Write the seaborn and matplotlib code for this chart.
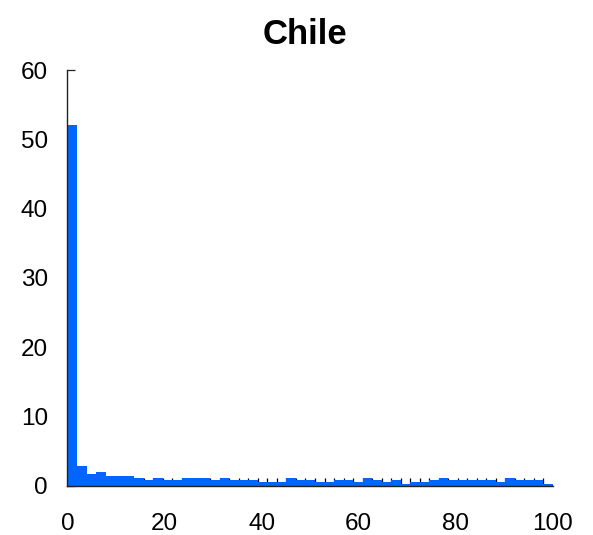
import numpy as np
import pandas as pd
import seaborn as sns
import matplotlib.pyplot as plt

# share (%) per bin, 51 equal bins over 0-100
bin_edges = list(np.linspace(0, 100, 52))
bin_heights = [
    52.0, 2.8, 1.7, 2.0, 1.4, 1.4, 1.4, 1.1, 0.8, 1.1,
    0.8, 0.8, 1.1, 1.1, 1.1, 0.8, 1.1, 0.8, 0.8, 0.8,
    0.5, 0.5, 0.5, 1.1, 0.8, 0.8, 0.5, 0.5, 0.8, 0.8,
    0.5, 1.1, 0.8, 0.5, 0.8, 0.25, 0.5, 0.5, 0.8, 1.1,
    0.8, 0.8, 0.8, 0.8, 0.8, 0.5, 1.1, 0.8, 0.8, 0.8,
    0.25,
]
bin_centers = [(a + b) / 2 for a, b in zip(bin_edges[:-1], bin_edges[1:])]
x_ticks = [0, 20, 40, 60, 80, 100]
y_ticks = [0, 10, 20, 30, 40, 50, 60]
title = "Chile"

df = pd.DataFrame({"value": bin_centers, "share": bin_heights})

sns.set_style("ticks")
plt.rcParams["font.family"] = ["Liberation Sans", "DejaVu Sans"]

fig = plt.figure(figsize=(5.93, 5.35), dpi=100)
ax = fig.add_axes([0.1138, 0.0925, 0.8187, 0.7765])

sns.histplot(data=df, x="value", weights="share", bins=bin_edges,
             color="#0066ff", alpha=1, edgecolor="none", linewidth=0, ax=ax)

ax.set_xlim(0, 100)
ax.set_ylim(0, 60)
ax.set_xticks(x_ticks)
ax.set_xticks(bin_edges, minor=True)
ax.set_yticks(y_ticks)
ax.set_xlabel("")
ax.set_ylabel("")

sns.despine(ax=ax)
for side in ["left", "bottom"]:
    ax.spines[side].set_color("#222222")
    ax.spines[side].set_linewidth(1.0)
    ax.spines[side].set_zorder(3)

ax.tick_params(axis="x", which="major", direction="in", length=0, pad=20,
               labelsize=17.5, labelcolor="black")
ax.tick_params(axis="x", which="minor", direction="in", length=5.5,
               width=0.9, color="black")
ax.tick_params(axis="y", direction="in", length=5.5, width=0.9, pad=14,
               color="#222222", labelsize=17.5, labelcolor="black")

ax.set_title(title, fontsize=25, fontweight="bold", pad=19, x=0.49,
             color="black")

fig.savefig("out.png", dpi=100)
